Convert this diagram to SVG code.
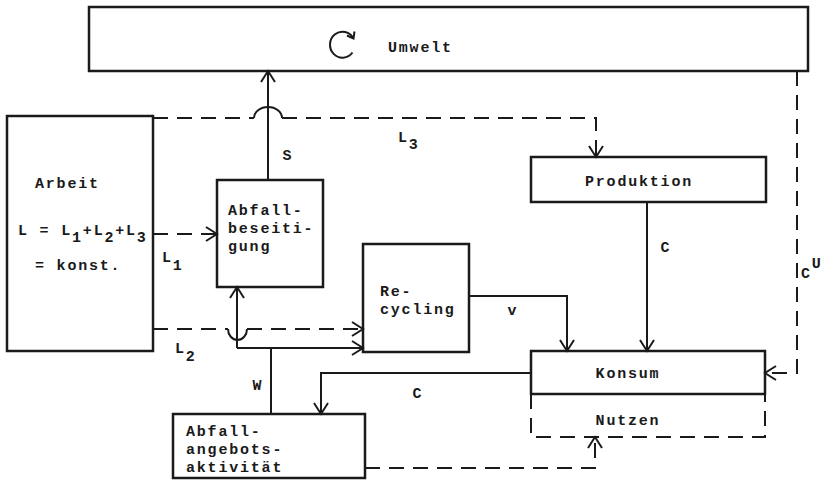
<svg xmlns="http://www.w3.org/2000/svg" width="827" height="480" viewBox="0 0 827 480">
<defs>
<marker id="ah" markerUnits="userSpaceOnUse" viewBox="-13 -9 15 18" refX="0" refY="0" markerWidth="15" markerHeight="18" orient="auto">
<path d="M-11,-7 L0,0 L-11,7" fill="none" stroke="#1a1a1a" stroke-width="2"/>
</marker>
</defs>
<style>
.box{fill:none;stroke:#1a1a1a;stroke-width:2.5}
.ln{fill:none;stroke:#1a1a1a;stroke-width:2}
.ds{fill:none;stroke:#1a1a1a;stroke-width:2;stroke-dasharray:15 9}
.arr{marker-end:url(#ah)}
text{font-family:"Liberation Mono","DejaVu Sans Mono",monospace;font-size:15px;font-weight:bold;fill:#1a1a1a;letter-spacing:1.8px}
.m{text-anchor:middle}
</style>
<rect width="827" height="480" fill="#ffffff"/>

<g id="umwelt">
<rect class="box" x="89" y="7" width="719" height="64"/>
<path class="ln" d="M352.5,52.5 A12.5,13 0 1 1 353.5,38.5"/>
<path class="ln" d="M354.5,31.5 L353.5,38.5 L347,35.5"/>
<text x="388" y="52">Umwelt</text>
</g>

<g id="arbeit">
<rect class="box" x="7" y="116" width="146" height="235"/>
<text x="35" y="188">Arbeit</text>
<text x="18" y="235">L = L<tspan dy="7">1</tspan><tspan dy="-7">+L</tspan><tspan dy="7">2</tspan><tspan dy="-7">+L</tspan><tspan dy="7">3</tspan></text>
<text x="35" y="270">= konst.</text>
</g>

<g id="abfallbeseitigung">
<rect class="box" x="217" y="180" width="106" height="107"/>
<text x="228" y="215">Abfall-</text>
<text x="228" y="233">beseiti-</text>
<text x="228" y="251">gung</text>
</g>

<g id="produktion">
<rect class="box" x="531" y="157" width="235" height="45"/>
<text class="m" x="639" y="186">Produktion</text>
</g>

<g id="recycling">
<rect class="box" x="363" y="244" width="106" height="108"/>
<text x="380" y="296">Re-</text>
<text x="380" y="314">cycling</text>
</g>

<g id="konsum">
<rect class="box" x="531" y="351" width="234" height="43"/>
<text class="m" x="628" y="378">Konsum</text>
</g>

<g id="nutzen">
<path class="ds" d="M531,394 V437 H765 V394"/>
<text class="m" x="628" y="425">Nutzen</text>
</g>

<g id="abfallangebotsaktivitaet">
<rect class="box" x="173" y="414" width="192" height="64"/>
<text x="186" y="436">Abfall-</text>
<text x="186" y="454">angebots-</text>
<text x="186" y="472">aktivität</text>
</g>

<g id="connectors">
<path class="ln arr" d="M268,180 V71"/>
<path class="ds" d="M153,118 H254"/>
<path class="ln" d="M254,118 A14,11 0 0 1 282,118"/>
<path class="ds arr" d="M282,118 H596 V157"/>
<path class="ds arr" d="M153,234 H217"/>
<path class="ds" d="M153,329 H228"/>
<path class="ln" d="M228,329 A9.5,11 0 0 0 247,329"/>
<path class="ds arr" d="M247,329 H363"/>
<path class="ln" d="M271,414 V348 H237"/>
<path class="ln arr" d="M237,348 H363"/>
<path class="ln arr" d="M237,348 V287"/>
<path class="ln arr" d="M469,296 H567 V351"/>
<path class="ln arr" d="M647,202 V351"/>
<path class="ds arr" d="M797,71 V373 H765"/>
<path class="ln arr" d="M531,373 H321 V414"/>
<path class="ds arr" d="M365,468 H595 V437"/>
<text class="m" x="288" y="160">S</text>
<text x="398" y="142">L<tspan dy="7">3</tspan></text>
<text x="162" y="262">L<tspan dy="8">1</tspan></text>
<text x="175" y="353">L<tspan dy="8">2</tspan></text>
<text class="m" x="666" y="252">C</text>
<text x="801" y="278">C<tspan dy="-10">U</tspan></text>
<text class="m" x="513" y="315">v</text>
<text class="m" x="418" y="398">C</text>
<text class="m" x="258" y="390">W</text>
</g>
</svg>
